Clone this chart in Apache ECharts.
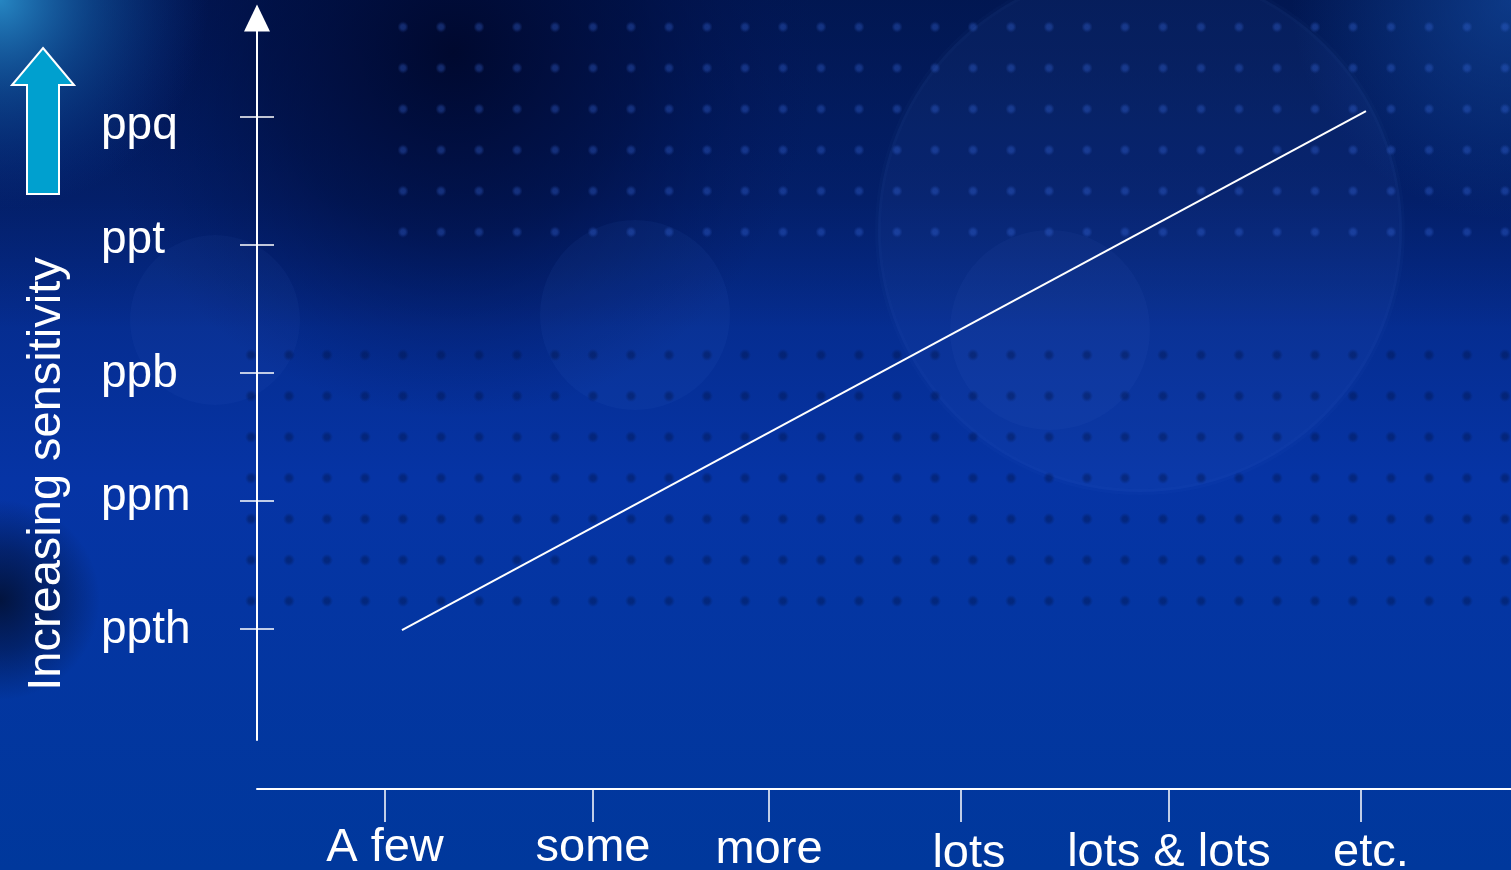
<!DOCTYPE html>
<html>
<head>
<meta charset="utf-8">
<script src="https://cdn.jsdelivr.net/npm/echarts@6/dist/echarts.min.js"></script>
<style>
html,body{margin:0;padding:0;width:1511px;height:870px;overflow:hidden;background:#0038a0;}
#chart{width:1511px;height:870px;}
</style>
</head>
<body>
<div id="chart"></div>
<script>
// ---- data ----
var xLabels = ['A few', 'some', 'more', 'lots', 'lots & lots', 'etc.'];
var xPositions = [8, 21, 32, 44, 57, 69];
var yLabels = ['ppth', 'ppm', 'ppb', 'ppt', 'ppq'];
var yLevels = [1, 2, 3, 4, 5];
var lineX = [9.06, 69.31];
var lineY = [0.99, 5.045];
var yAxisTitle = 'Increasing sensitivity';

// ---- styling (label nudges to mimic the slide's hand-placed text) ----
var FONT = '"Liberation Sans", Arial, Helvetica, sans-serif';
var xLabelPad = [[0, 0], [0, 0], [2, 0], [6, 16], [5, 0], [5, 20]]; // [top, left] padding
var yLabelPad = [[4, 0], [0, 6], [4, 0], [0, 8], [20, 0]];         // [top, bottom] padding

function dotPattern(inner, outer, r) {
  var c = document.createElement('canvas');
  c.width = 38; c.height = 41;
  var g = c.getContext('2d');
  var grd = g.createRadialGradient(19, 20.5, 0, 19, 20.5, r);
  grd.addColorStop(0, inner);
  grd.addColorStop(0.4, inner);
  grd.addColorStop(1, outer);
  g.fillStyle = grd;
  g.fillRect(0, 0, 38, 41);
  return c;
}

var xRich = {}, yRich = {};
xLabels.forEach(function (l, i) {
  xRich['x' + i] = {color: '#ffffff', fontSize: 47, fontFamily: FONT,
    padding: [xLabelPad[i][0], 0, 0, xLabelPad[i][1]]};
});
yLabels.forEach(function (l, i) {
  yRich['y' + i] = {color: '#ffffff', fontSize: 46, fontFamily: FONT,
    padding: [yLabelPad[i][0], 0, yLabelPad[i][1], 0]};
});

var chart = echarts.init(document.getElementById('chart'), null, {renderer: 'canvas'});
var seriesData = lineX.map(function (x, i) { return [x, lineY[i]]; });

var option = {
  animation: false,
  backgroundColor: {
    type: 'linear', x: 0, y: 0, x2: 0, y2: 1,
    colorStops: [
      {offset: 0, color: '#03226c'},
      {offset: 0.3, color: '#052a88'},
      {offset: 0.55, color: '#0634a5'},
      {offset: 1, color: '#00389c'}
    ]
  },
  graphic: {
    elements: [
      // dark top band
      {type: 'rect', z: -21, silent: true, shape: {x: 0, y: 0, width: 1511, height: 330},
        style: {fill: {type: 'linear', x: 0, y: 0, x2: 0, y2: 1, colorStops: [
          {offset: 0, color: 'rgba(0,14,60,0.55)'},
          {offset: 0.6, color: 'rgba(0,14,60,0.35)'},
          {offset: 1, color: 'rgba(0,14,60,0)'}]}}},
      // dark area top middle
      {type: 'rect', z: -20, silent: true, shape: {x: 0, y: 0, width: 1511, height: 870},
        style: {fill: {type: 'radial', x: 0.3, y: 0.06, r: 0.42, colorStops: [
          {offset: 0, color: 'rgba(0,8,45,0.95)'},
          {offset: 0.5, color: 'rgba(0,12,60,0.55)'},
          {offset: 1, color: 'rgba(0,20,90,0)'}]}}},
      // light top-right corner
      {type: 'circle', z: -20, silent: true, shape: {cx: 1511, cy: 0, r: 220},
        style: {fill: {type: 'radial', x: 0.5, y: 0.5, r: 0.5, colorStops: [
          {offset: 0, color: 'rgba(20,80,170,0.6)'},
          {offset: 1, color: 'rgba(20,80,170,0)'}]}}},
      // dark blob at left edge
      {type: 'ellipse', z: -19, silent: true, shape: {cx: 0, cy: 600, rx: 100, ry: 150},
        style: {fill: {type: 'radial', x: 0.5, y: 0.5, r: 0.5, colorStops: [
          {offset: 0, color: 'rgba(2,14,45,0.85)'},
          {offset: 0.5, color: 'rgba(2,16,55,0.5)'},
          {offset: 1, color: 'rgba(2,18,60,0)'}]}}},
      // light teal top-left corner
      {type: 'rect', z: -18, silent: true, shape: {x: 0, y: 0, width: 1511, height: 870},
        style: {fill: {type: 'radial', x: 0.0, y: 0.0, r: 0.24, colorStops: [
          {offset: 0, color: 'rgba(40,140,200,0.95)'},
          {offset: 0.45, color: 'rgba(20,95,170,0.55)'},
          {offset: 1, color: 'rgba(10,60,150,0)'}]}}},
      // faint glassy circles
      {type: 'circle', z: -17, silent: true, shape: {cx: 1140, cy: 230, r: 262},
        style: {fill: 'rgba(90,130,230,0.07)', stroke: 'rgba(130,170,255,0.025)', lineWidth: 6}},
      {type: 'circle', z: -17, silent: true, shape: {cx: 1050, cy: 330, r: 100},
        style: {fill: 'rgba(90,130,230,0.05)'}},
      {type: 'circle', z: -17, silent: true, shape: {cx: 635, cy: 315, r: 95},
        style: {fill: 'rgba(90,130,230,0.06)'}},
      {type: 'circle', z: -17, silent: true, shape: {cx: 215, cy: 320, r: 85},
        style: {fill: 'rgba(90,130,230,0.05)'}},
      // dot patterns
      {type: 'rect', z: -16, silent: true, shape: {x: 245, y: 335, width: 1266, height: 285},
        style: {fill: {image: dotPattern('rgba(0,18,70,0.4)', 'rgba(0,18,70,0)', 6), repeat: 'repeat', x: 4, y: 6.5}}},
      {type: 'rect', z: -16, silent: true, shape: {x: 380, y: 5, width: 1131, height: 255},
        style: {fill: {image: dotPattern('rgba(60,110,230,0.32)', 'rgba(60,110,230,0)', 5.5), repeat: 'repeat', x: 4, y: 6.5}}},
      // cyan arrow
      {type: 'polygon', z: 10, silent: true,
        shape: {points: [[43, 48], [74, 85], [59, 85], [59, 194], [27, 194], [27, 85], [12, 85]]},
        style: {fill: '#00a0cf', stroke: '#ffffff', lineWidth: 2}},
      // rotated y title
      {type: 'text', z: 10, silent: true, x: 47, y: 474, rotation: Math.PI / 2,
        style: {text: yAxisTitle, fill: '#ffffff', font: '47px ' + FONT,
          align: 'center', verticalAlign: 'middle'}}
    ]
  },
  grid: {left: 257, right: 0, top: 18, bottom: 130, containLabel: false, outerBoundsMode: 'none'},
  xAxis: {
    type: 'value', min: 0, max: 78.375, position: 'bottom', offset: 49,
    axisLine: {show: true, lineStyle: {color: '#ffffff', width: 2}},
    axisTick: {show: true, length: 33, customValues: xPositions, lineStyle: {color: '#ffffff', width: 1.5}},
    axisLabel: {show: true, customValues: xPositions, margin: 36, color: '#ffffff',
      fontSize: 47, fontFamily: FONT, hideOverlap: false, rich: xRich,
      formatter: function (v) { var i = xPositions.indexOf(v); return i >= 0 ? '{x' + i + '|' + xLabels[i] + '}' : ''; }},
    splitLine: {show: false}
  },
  yAxis: [{
    type: 'value', min: 0.131, max: 5.772, position: 'left',
    axisLine: {show: true, symbol: ['none', 'triangle'], symbolSize: [26, 27],
      lineStyle: {color: '#ffffff', width: 2}},
    axisTick: {show: true, inside: false, length: 17, customValues: yLevels, lineStyle: {color: '#ffffff', width: 1.5}},
    axisLabel: {show: true, customValues: yLevels, margin: 156, align: 'left', color: '#ffffff',
      fontSize: 46, fontFamily: FONT, hideOverlap: false, rich: yRich,
      formatter: function (v) { var i = yLevels.indexOf(v); return i >= 0 ? '{y' + i + '|' + yLabels[i] + '}' : ''; }},
    splitLine: {show: false}
  }, {
    type: 'value', min: 0.131, max: 5.772, position: 'left', offset: 0,
    axisLine: {show: false},
    axisTick: {show: true, inside: true, length: 17, customValues: yLevels, lineStyle: {color: '#ffffff', width: 1.5}},
    axisLabel: {show: false},
    splitLine: {show: false}
  }],
  series: [{
    type: 'line', xAxisIndex: 0, yAxisIndex: 0, data: seriesData,
    symbol: 'none', clip: false,
    lineStyle: {color: '#ffffff', width: 2}
  }]
};
chart.setOption(option);
</script>
</body>
</html>
